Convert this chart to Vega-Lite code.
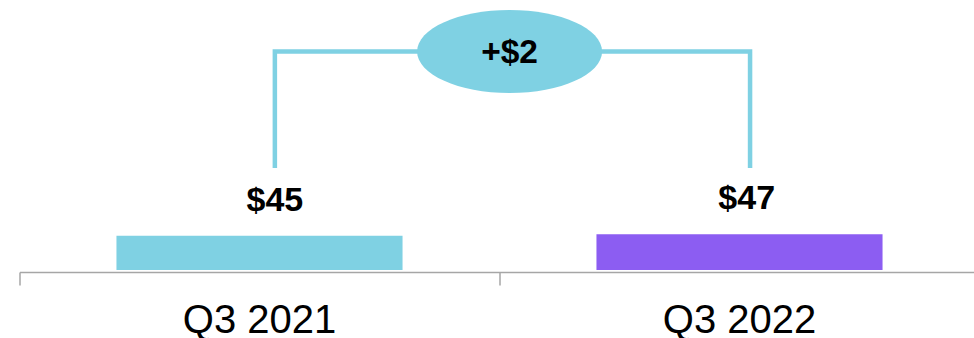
{
  "$schema": "https://vega.github.io/schema/vega-lite/v6.json",
  "autosize": "none",
  "width": 954.5,
  "height": 270,
  "padding": {"left": 19.5, "top": 0, "right": 0, "bottom": 68},
  "background": "white",
  "config": {"view": {"stroke": null}, "font": "Liberation Sans"},
  "resolve": {"scale": {"x": "independent"}},
  "layer": [
    {
      "data": {"values": [
        {"Quarter": "Q3 2021", "Value": 45},
        {"Quarter": "Q3 2022", "Value": 47}
      ]},
      "mark": {"type": "bar", "width": {"band": 0.596}},
      "encoding": {
        "x": {
          "field": "Quarter", "type": "nominal", "sort": null,
          "scale": {"type": "band", "paddingInner": 0, "paddingOuter": 0, "range": [0, 960]},
          "axis": {
            "title": null, "labelAngle": 0, "bandPosition": 0, "grid": false,
            "offset": 2, "domainColor": "#a6a6a6", "domainWidth": 1.5,
            "tickColor": "#a6a6a6", "tickWidth": 1.5, "tickSize": 13,
            "labelFont": "Liberation Sans", "labelFontSize": 40, "labelColor": "#000000",
            "labelPadding": 15, "labelFontWeight": "normal"
          }
        },
        "y": {
          "field": "Value", "type": "quantitative",
          "scale": {"domain": [0, 355], "zero": true, "nice": false},
          "axis": null
        },
        "color": {
          "field": "Quarter", "type": "nominal",
          "scale": {"domain": ["Q3 2021", "Q3 2022"], "range": ["#7FD1E3", "#8C5DF2"]},
          "legend": null
        }
      }
    },
    {
      "layer": [
        {
          "data": {"values": [
            {"bx": 0.532, "by": 134, "o": 1},
            {"bx": 0.532, "by": 287.3, "o": 2},
            {"bx": 1.522, "by": 287.3, "o": 3},
            {"bx": 1.522, "by": 134, "o": 4}
          ]},
          "mark": {"type": "line", "color": "#7FD1E3", "strokeWidth": 4.5, "strokeJoin": "miter", "strokeCap": "butt"},
          "encoding": {
            "x": {"field": "bx", "type": "quantitative", "scale": {"domain": [0, 2], "range": [0, 960], "nice": false, "zero": false}, "axis": null},
            "y": {"field": "by", "type": "quantitative", "axis": null},
            "order": {"field": "o", "type": "quantitative"}
          }
        },
        {
          "data": {"values": [{"bx": 1.021, "by": 287.3, "label": "+$2"}]},
          "layer": [
            {
              "mark": {
                "type": "point", "filled": true, "color": "#7FD1E3", "opacity": 1, "strokeWidth": 0,
                "size": 34225,
                "shape": "M -1 0 C -1 -0.248 -0.552 -0.449 0 -0.449 C 0.552 -0.449 1 -0.248 1 0 C 1 0.248 0.552 0.449 0 0.449 C -0.552 0.449 -1 0.248 -1 0 Z"
              },
              "encoding": {
                "x": {"field": "bx", "type": "quantitative", "axis": null},
                "y": {"field": "by", "type": "quantitative", "axis": null}
              }
            },
            {
              "mark": {"type": "text", "font": "Liberation Sans", "fontSize": 33.5, "fontWeight": "bold", "color": "#000000", "baseline": "alphabetic", "align": "center", "dy": 11.5},
              "encoding": {
                "x": {"field": "bx", "type": "quantitative", "axis": null},
                "y": {"field": "by", "type": "quantitative", "axis": null},
                "text": {"field": "label"}
              }
            }
          ]
        },
        {
          "data": {"values": [
            {"anchor": 0.532, "Value": 45, "label": "$45"},
            {"anchor": 1.515, "Value": 47, "label": "$47"}
          ]},
          "mark": {"type": "text", "font": "Liberation Sans", "fontSize": 34, "fontWeight": "bold", "color": "#000000", "baseline": "alphabetic", "align": "center", "dy": -25},
          "encoding": {
            "x": {"field": "anchor", "type": "quantitative", "axis": null},
            "y": {"field": "Value", "type": "quantitative", "axis": null},
            "text": {"field": "label"}
          }
        }
      ]
    }
  ]
}
